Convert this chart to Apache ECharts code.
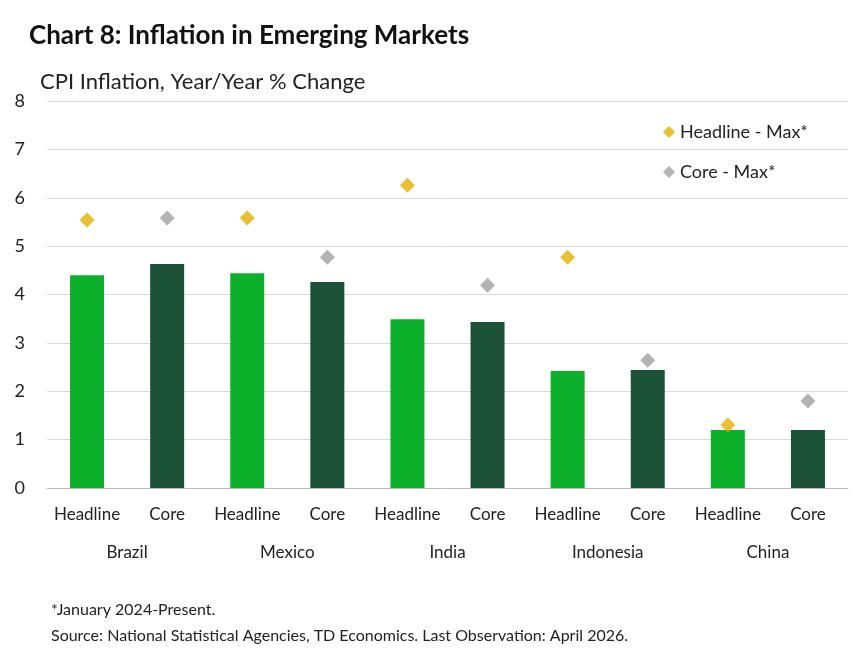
<!DOCTYPE html>
<html>
<head>
<meta charset="utf-8">
<script src="https://cdn.jsdelivr.net/npm/echarts@6/dist/echarts.min.js"></script>
<style>
  html, body { margin: 0; padding: 0; background: #fff; }
  #chart { width: 868px; height: 648px; }
</style>
</head>
<body>
<div id="chart"></div>
<script>
const categories = ['Headline', 'Core', 'Headline', 'Core', 'Headline', 'Core', 'Headline', 'Core', 'Headline', 'Core']
const countries = ['Brazil', 'Mexico', 'India', 'Indonesia', 'China']
const current = [4.40, 4.63, 4.44, 4.26, 3.49, 3.43, 2.42, 2.44, 1.20, 1.20]
const headlineMax = [5.54, null, 5.58, null, 6.26, null, 4.77, null, 1.30, null]
const coreMax = [null, 5.58, null, 4.77, null, 4.19, null, 2.64, null, 1.80]

const headlineColor = '#0db02b'
const coreColor = '#1c5237'
const font = 'Lato, "Open Sans", sans-serif'

let chart = echarts.init(document.getElementById('chart'))
chart.setOption({
  animation: false,
  textStyle: { fontFamily: font },
  title: [
    {
      text: 'Chart 8: Inflation in Emerging Markets',
      left: 24, top: 18,
      textStyle: { fontSize: 26, fontWeight: 'bold', color: '#111', fontFamily: font },
    },
    {
      text: 'CPI Inflation, Year/Year % Change',
      left: 35, top: 66,
      textStyle: { fontSize: 22, fontWeight: 'normal', color: '#222', fontFamily: font },
    },
    {
      text: '*January 2024-Present.\nSource: National Statistical Agencies, TD Economics. Last Observation: April 2026.',
      left: 46, top: 592,
      textStyle: { fontSize: 16, fontWeight: 'normal', color: '#222', lineHeight: 26, fontFamily: font },
    },
  ],
  legend: {
    orient: 'vertical',
    right: 55, top: 118,
    itemGap: 22,
    itemWidth: 12, itemHeight: 12,
    textStyle: { fontSize: 18, color: '#222' },
    data: [
      { name: 'Headline - Max*', icon: 'diamond' },
      { name: 'Core - Max*', icon: 'diamond' },
    ],
  },
  grid: { left: 47, right: 20, top: 101, bottom: 160 },
  xAxis: [
    {
      type: 'category',
      data: categories,
      axisTick: { show: false },
      axisLine: { lineStyle: { color: '#bbb' } },
      axisLabel: { fontSize: 17, color: '#222', margin: 18, interval: 0 },
    },
    {
      type: 'category',
      data: countries,
      position: 'bottom',
      offset: 38,
      axisTick: { show: false },
      axisLine: { show: false },
      axisLabel: { fontSize: 17, color: '#222', margin: 18, interval: 0 },
    },
  ],
  yAxis: {
    type: 'value',
    min: 0, max: 8, interval: 1,
    axisLabel: { fontSize: 18, color: '#222', margin: 22 },
    splitLine: { lineStyle: { color: '#d9d9d9' } },
  },
  series: [
    {
      name: 'Current',
      type: 'bar',
      barWidth: 34,
      data: current.map((v, i) => ({
        value: v,
        itemStyle: { color: i % 2 === 0 ? headlineColor : coreColor },
      })),
    },
    {
      name: 'Headline - Max*',
      type: 'scatter',
      symbol: 'diamond',
      symbolSize: 15,
      itemStyle: { color: '#e3b000' },
      data: headlineMax,
    },
    {
      name: 'Core - Max*',
      type: 'scatter',
      symbol: 'diamond',
      symbolSize: 15,
      itemStyle: { color: '#a0a0a0' },
      data: coreMax,
    },
  ],
})
</script>
</body>
</html>
